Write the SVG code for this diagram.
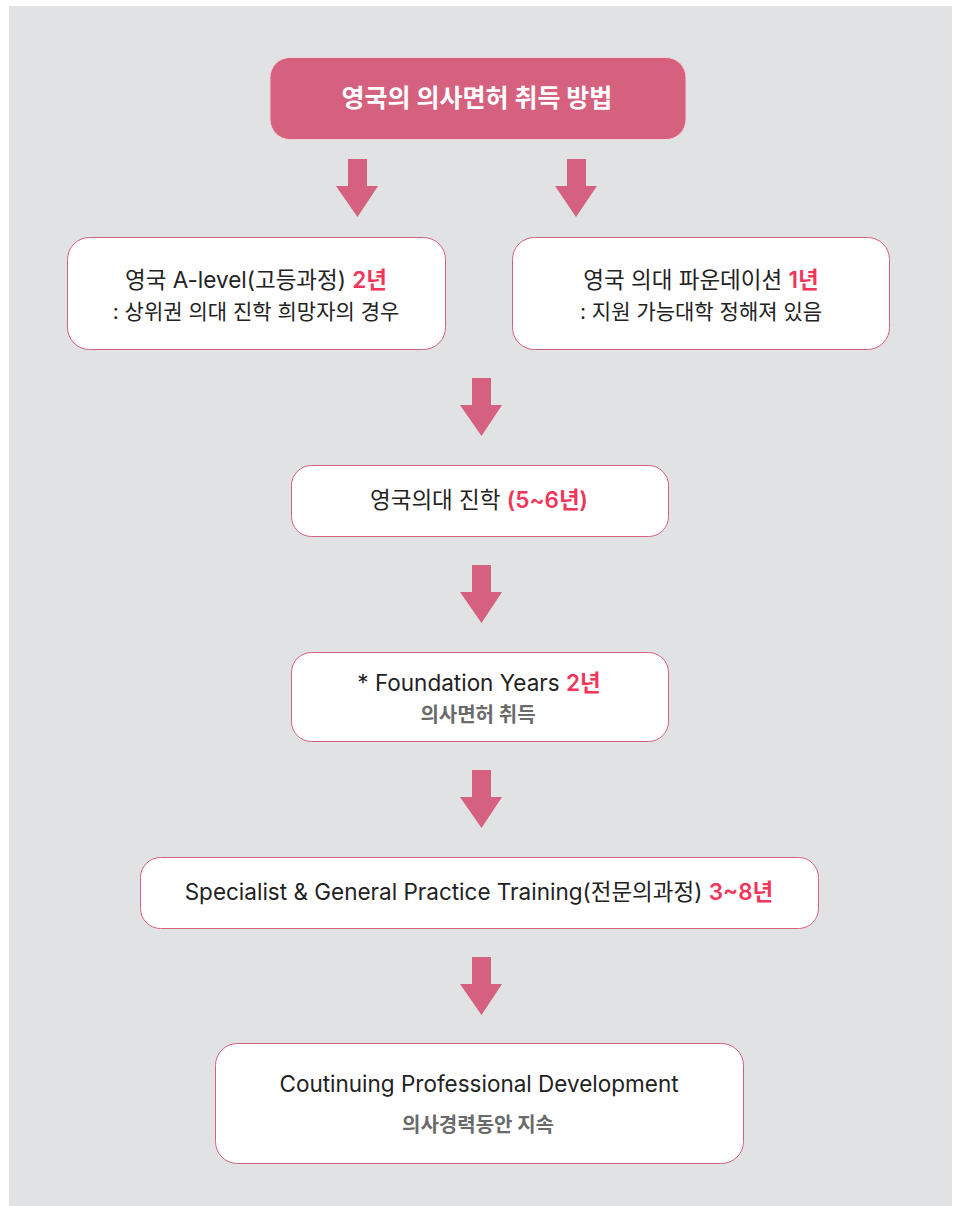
<svg xmlns="http://www.w3.org/2000/svg" width="957" height="1206" viewBox="0 0 957 1206">
<defs>
<style>
.box{fill:#ffffff;stroke:#d5607f;stroke-width:1}
.arrow{fill:#d5607f}
text{font-family:Inter,"Noto Sans CJK KR",sans-serif;text-anchor:middle}
.main{font-size:22.5px;fill:#222222}
.line2{font-size:21px;fill:#222222}
.red{fill:#f0365a;font-weight:600}
.sub{font-size:20px;font-weight:bold;fill:#6a6a6a}
.title{font-size:25px;font-weight:bold;fill:#ffffff}
</style>
</defs>
<rect x="0" y="0" width="957" height="1206" fill="#ffffff"/>
<rect x="9" y="6" width="943" height="1200" fill="#e1e2e4"/>
<g id="connectors">
<polygon class="arrow" points="348,159 367,159 367,186 378,186 357.5,217 336,186 348,186"/>
<polygon class="arrow" points="567,159 586,159 586,186 597,186 576,217 555,186 567,186"/>
<polygon class="arrow" points="472,378 491,378 491,405 502,405 481.5,436 460,405 472,405"/>
<polygon class="arrow" points="472,565 491,565 491,592 502,592 481.5,623 460,592 472,592"/>
<polygon class="arrow" points="472,770 491,770 491,797 502,797 481.5,828 460,797 472,797"/>
<polygon class="arrow" points="472,957 491,957 491,984 502,984 481.5,1015 460,984 472,984"/>
</g>
<g id="title">
<rect x="270" y="57.5" width="416" height="82" rx="20" fill="#d5617f" stroke="#f3d3dc" stroke-width="1"/>
<text class="title" x="477" y="107">영국의 의사면허 취득 방법</text>
</g>
<g id="alevel">
<rect class="box" x="67.5" y="237.5" width="378" height="112" rx="22"/>
<text class="main" x="256" y="288">영국 A-level(고등과정) <tspan class="red">2년</tspan></text>
<text class="line2" x="256" y="319">: 상위권 의대 진학 희망자의 경우</text>
</g>
<g id="foundation-course">
<rect class="box" x="512.5" y="237.5" width="377" height="112" rx="22"/>
<text class="main" x="701" y="288">영국 의대 파운데이션 <tspan class="red" font-weight="bold">1년</tspan></text>
<text class="line2" x="701" y="319">: 지원 가능대학 정해져 있음</text>
</g>
<g id="medschool">
<rect class="box" x="291.5" y="465.5" width="377" height="71" rx="20"/>
<text class="main" x="479" y="508">영국의대 진학 <tspan class="red">(5~6년)</tspan></text>
</g>
<g id="foundation-years">
<rect class="box" x="291.5" y="652.5" width="377" height="89" rx="20"/>
<text class="main" x="479" y="691">* Foundation Years <tspan class="red">2년</tspan></text>
<text class="sub" x="478" y="722">의사면허 취득</text>
</g>
<g id="specialist">
<rect class="box" x="140.5" y="857.5" width="678" height="71" rx="20"/>
<text class="main" x="479" y="900">Specialist &amp; General Practice Training(전문의과정) <tspan class="red">3~8년</tspan></text>
</g>
<g id="cpd">
<rect class="box" x="215.5" y="1043.5" width="528" height="120" rx="22"/>
<text class="main" x="479" y="1092">Coutinuing Professional Development</text>
<text class="sub" x="478" y="1132">의사경력동안 지속</text>
</g>
</svg>
